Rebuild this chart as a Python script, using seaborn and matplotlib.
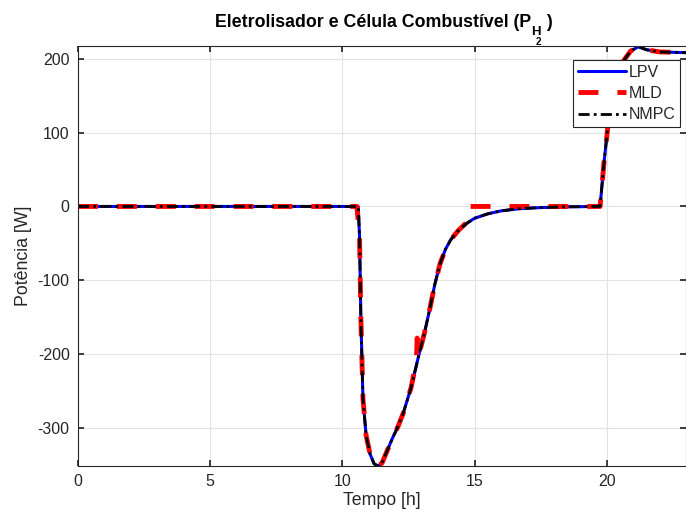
import numpy as np
import pandas as pd
import matplotlib
matplotlib.use('Agg')
import matplotlib.pyplot as plt
import seaborn as sns

# Time axis [h] and power values [W]
t_lpv = [0, 10.6, 10.65, 10.7, 10.78, 10.9, 11.05, 11.2, 11.35, 11.5, 11.7, 11.9,
         12.1, 12.3, 12.6, 12.9, 13.1, 13.3, 13.5, 13.7, 13.9, 14.1, 14.4, 14.7,
         15.0, 15.5, 16.0, 16.7, 17.5, 18.5, 19.75, 19.9, 20.05, 20.3, 20.6,
         20.9, 21.2, 21.5, 22.0, 23.0]
p_lpv = [0, 0, -40, -150, -260, -310, -335, -348, -351, -347, -330, -313,
         -298, -280, -245, -200, -172, -140, -105, -77, -58, -45, -32, -23,
         -16, -10, -6, -3, -1.5, -0.5, 0, 60, 110, 160, 195,
         210, 216, 212, 209, 208]

t_mld = [0, 10.55, 10.65, 10.7, 10.78, 10.9, 11.05, 11.2, 11.35, 11.5, 11.7, 11.9,
         12.1, 12.3, 12.6, 12.8, 12.83, 12.88, 12.9, 13.1, 13.3, 13.5, 13.7, 13.9,
         14.1, 14.4, 14.75, 14.8, 16.0, 19.75, 19.9, 20.05, 20.3, 20.6,
         20.9, 21.2, 21.5, 22.0, 23.0]
p_mld = [0, 0, -40, -150, -260, -310, -335, -348, -351, -347, -330, -313,
         -298, -280, -245, -210, -178, -198, -200, -172, -140, -105, -77, -58,
         -45, -32, -20, 0, 0, 0, 60, 110, 160, 195,
         210, 216, 212, 209, 208]

t_nmpc = t_lpv
p_nmpc = p_lpv

sns.set_theme(style='ticks')
plt.rcParams['font.family'] = ['Liberation Sans', 'DejaVu Sans']
plt.rcParams['axes.unicode_minus'] = False

W, H = 686, 518
fig = plt.figure(figsize=(W / 100, H / 100), dpi=100)
ax = fig.add_axes([78 / W, 1 - 466 / H, 608 / W, 420 / H])

sns.lineplot(x=t_lpv, y=p_lpv, ax=ax, color='#0000ff', linewidth=2.2, label='LPV')
sns.lineplot(x=t_mld, y=p_mld, ax=ax, color='#ff0000', linewidth=3.5,
             dashes=False, label='MLD').lines[-1].set_dashes((4.1, 3.9))
sns.lineplot(x=t_nmpc, y=p_nmpc, ax=ax, color='black', linewidth=2,
             label='NMPC').lines[-1].set_dashes((4, 1.5, 1, 1.5))

ax.set_xlim(0, 23)
ax.set_ylim(-351, 217)
ax.set_xticks([0, 5, 10, 15, 20])
ax.set_yticks([-300, -200, -100, 0, 100, 200])
ax.grid(True, color='#e3e3e3', linewidth=0.8)
ax.tick_params(direction='in', length=4, labelsize=11.5, colors='#262626',
               top=True, right=True, pad=6)
for s in ax.spines.values():
    s.set_color('#262626')
    s.set_linewidth(0.8)

ax.set_xlabel('Tempo [h]', fontsize=12.8, color='#262626', labelpad=2)
ax.set_ylabel('Potência [W]', fontsize=12.8, color='#262626', labelpad=4)

leg = ax.legend(loc='upper right', bbox_to_anchor=(0.99, 0.967), borderaxespad=0,
                fontsize=11.5, frameon=True, fancybox=False, framealpha=1,
                edgecolor='#262626', handlelength=3.0, handletextpad=0.15,
                labelspacing=0.4, borderpad=0.3)
leg.get_frame().set_linewidth(0.8)

# Title with MATLAB-style nested subscript (P_{H_2}), built from pieces
tkw = dict(fontweight='bold', color='black', va='baseline', ha='left')
r = fig.canvas.get_renderer()
main = fig.text(215 / W, 1 - 27 / H, 'Eletrolisador e Célula Combustível (P',
                fontsize=12.8, **tkw)
x1 = main.get_window_extent(r).x1
sub_h = fig.text(x1 / W, 1 - 35 / H, 'H', fontsize=9.5, **tkw)
xh0 = sub_h.get_window_extent(r).x0
xh1 = sub_h.get_window_extent(r).x1
fig.text((xh0 + 4) / W, 1 - 45 / H, '2', fontsize=7, **tkw)
fig.text((xh1 + 1) / W, 1 - 27 / H, ' )', fontsize=12.8, **tkw)

plt.savefig('out.png', dpi=100)
plt.close()
